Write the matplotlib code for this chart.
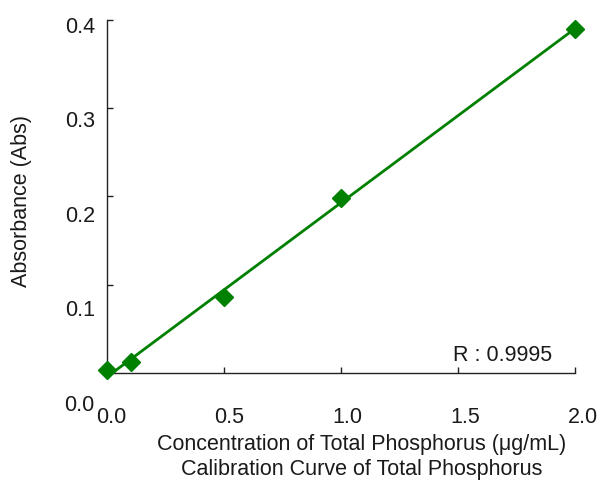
import numpy as np
import matplotlib
matplotlib.use("Agg")
import matplotlib.pyplot as plt

# Data
conc = [0.0, 0.1, 0.5, 1.0, 2.0]
absorb = [0.003, 0.012, 0.086, 0.198, 0.390]
x_ticks = [0.0, 0.5, 1.0, 1.5, 2.0]
y_ticks = [0.0, 0.1, 0.2, 0.3, 0.4]
x_ticklabels = ["0.0", "0.5", "1.0", "1.5", "2.0"]
y_ticklabels = ["0.0", "0.1", "0.2", "0.3", "0.4"]
r_text = "R : 0.9995"
xlabel = "Concentration of Total Phosphorus (\u03bcg/mL)\nCalibration Curve of Total Phosphorus"
ylabel = "Absorbance (Abs)"

plt.rcParams['font.family'] = ['Liberation Sans', 'DejaVu Sans']
FS = 15.5
TXT = '#1a1a1a'
GREEN = '#008000'

fig = plt.figure(figsize=(6.0, 4.81), dpi=100)
ax = fig.add_axes([0.1788, 0.149, 0.9745 - 0.1788, 0.957 - 0.149])
ax.set_xlim(0, 2.04)
ax.set_ylim(-0.04, 0.4)

# fit line
coef = np.polyfit(conc, absorb, 1)
xl = np.array([min(conc), max(conc)])
ax.plot(xl, np.polyval(coef, xl), color=GREEN, lw=2.0, zorder=3, clip_on=False)
ax.plot(conc, absorb, linestyle='none', marker='D', ms=9, color=GREEN,
        mec=GREEN, zorder=4, clip_on=False)

for s in ['top', 'right']:
    ax.spines[s].set_visible(False)
ax.spines['left'].set_bounds(0, 0.4)
ax.spines['bottom'].set_bounds(0, 2.0)
ax.spines['bottom'].set_position(('data', 0))
for s in ['left', 'bottom']:
    ax.spines[s].set_color('#222222')
    ax.spines[s].set_linewidth(1.0)

# major ticks: marks only
ax.set_xticks(x_ticks)
ax.set_yticks(y_ticks)
ax.tick_params(axis='both', which='major', direction='in', length=4.5, width=1,
               color='#222222', labelbottom=False, labelleft=False)

# labels via minor ticks (offset as in the reference)
ypx_per = 883.0
ylab_pos = [(374 - (25 + (0.4 - v) * 945)) / ypx_per for v in y_ticks]
xlab_pos = [(111 + v * 236 - 107.3) / 234.0 for v in x_ticks]
ax.set_yticks(ylab_pos, minor=True)
ax.set_yticklabels(y_ticklabels, minor=True)
ax.set_xticks(xlab_pos, minor=True)
ax.set_xticklabels(x_ticklabels, minor=True)
ax.tick_params(axis='y', which='minor', length=0, pad=9, labelsize=FS, labelcolor=TXT)
ax.tick_params(axis='x', which='minor', length=0, pad=24, labelsize=FS, labelcolor=TXT)

ax.set_xlabel(xlabel, fontsize=FS, color=TXT, linespacing=1.27)
ax.xaxis.set_label_coords(0.532, -0.063, transform=ax.transAxes)
ax.xaxis.label.set_va('top')
ax.set_ylabel(ylabel, fontsize=FS, color=TXT, va='center')
ax.yaxis.set_label_coords((22 - 107.3) / 477.4, (409.3 - 201) / 388.6)

ax.text(0.9315, 0.1397, r_text, transform=ax.transAxes, ha='right', va='center',
        fontsize=FS, color=TXT)

fig.savefig('out.png', dpi=100)
